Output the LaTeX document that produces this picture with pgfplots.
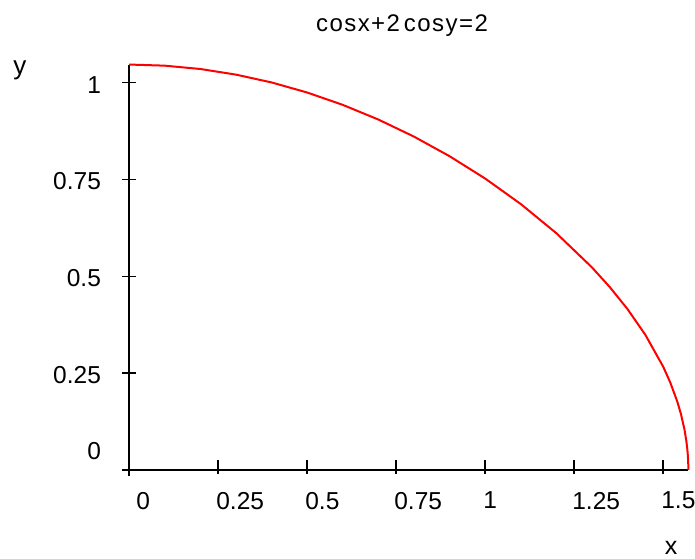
\documentclass[border=0pt]{standalone}
\usepackage{pgfplots}
\pgfplotsset{compat=1.18}
\usepackage{fontspec}
\setmainfont{Liberation Sans}
\begin{document}
\begin{tikzpicture}
\useasboundingbox (-122pt,-82pt) rectangle (573pt,476pt);
\begin{axis}[
  x=356pt, y=387pt,
  xmin=-0.02, xmax=1.5708,
  ymin=-0.016, ymax=1.0472,
  axis lines=middle,
  axis line style={-, line width=1.6pt, black},
  hide obscured x ticks=false,
  hide obscured y ticks=false,
  xtick={0.25,0.5,0.75,1,1.25,1.5},
  xticklabels={0.25,0.5,0.75,1,1.25,1.5},
  ytick={0.25,0.5,0.75,1},
  yticklabels={0.25,0.5,0.75,1},
  extra x ticks={0},
  extra x tick labels={0},
  extra x tick style={xticklabel style={xshift=9pt}},
  extra y ticks={0},
  extra y tick labels={0},
  extra y tick style={yticklabel style={yshift=21pt}},
  tick align=center,
  major tick length=14pt,
  xtick style={line width=1.3pt, black, yshift=3pt},
  ytick style={line width=1.3pt, black},
  xticklabel style={anchor=north west, inner sep=0pt, yshift=-15pt, xshift=-2pt, font=\fontsize{24.5}{29}\selectfont},
  yticklabel style={anchor=east, inner sep=0pt, xshift=-21pt, yshift=-2pt, font=\fontsize{24.5}{29}\selectfont},
  clip=false,
]
\addplot[red, line width=2pt] coordinates {
(0,1.0472) (0.1,1.0443) (0.2,1.0357) (0.3,1.0212) (0.4,1.0010)
(0.5,0.97495) (0.6,0.94304) (0.7,0.90514) (0.8,0.86104) (0.9,0.81042)
(1.0,0.7527) (1.1,0.68692) (1.2,0.61144) (1.3,0.52315) (1.35,0.47236)
(1.4,0.41524) (1.45,0.34890) (1.5,0.26675) (1.52,0.22581) (1.54,0.1757)
(1.55,0.14433) (1.56,0.10395) (1.565,0.07615) (1.568,0.05289) (1.569,0.04238)
(1.57,0.02822) (1.5703,0.0224) (1.5706,0.0141) (1.5708,0)
};
\end{axis}
\node[anchor=base, font=\fontsize{24}{28}\selectfont\addfontfeature{LetterSpace=6}] at (280pt,444pt) {cosx+2\,cosy=2};
\node[anchor=base, font=\fontsize{26}{30}\selectfont] at (-102pt,402pt) {y};
\node[anchor=base, inner sep=0pt, font=\fontsize{25}{30}\selectfont] at (549pt,-78pt) {x};
\end{tikzpicture}
\end{document}
